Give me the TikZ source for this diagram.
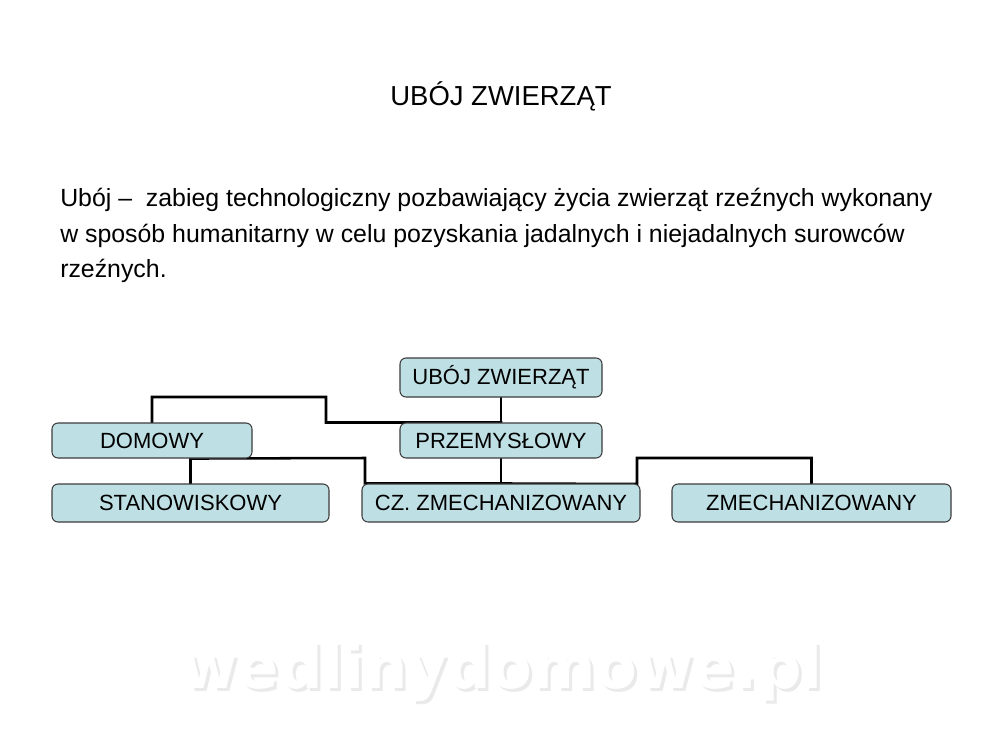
\documentclass[tikz,border=0pt]{standalone}
\usepackage{fontspec}
\setmainfont{Liberation Sans}
\newfontfamily\wmfont{DejaVu Sans}
\pgfdeclarelayer{paper}
\pgfdeclarelayer{wires}
\pgfsetlayers{paper,wires,main}
\definecolor{boxfill}{RGB}{190,224,228}
\definecolor{boxline}{RGB}{60,60,60}
\definecolor{wmshadow}{RGB}{234,234,234}
\tikzset{
  orgbox/.style={draw=boxline, line width=0.8pt, fill=boxfill, rounded corners=4.5pt,
    inner sep=0pt, text=black, font=\fontsize{16.5}{19}\selectfont},
  conn/.style={draw=black, line width=1.9pt, line cap=rect},
  para/.style={anchor=base west, inner sep=0pt, font=\fontsize{18.65}{22}\selectfont}
}
\begin{document}
\begin{tikzpicture}[x=0.75pt,y=-0.75pt]
\useasboundingbox (0,0) rectangle (1000,750);
\begin{pgfonlayer}{paper}
\fill[white] (0,0) rectangle (1000,750);
\end{pgfonlayer}

% title
\node[anchor=base, inner sep=0pt, font=\fontsize{20.6}{24}\selectfont] (title) at (501,105) {UBÓJ ZWIERZĄT};

% paragraph
\node[para] (p1) at (60,206) {Ubój –\ \ zabieg technologiczny pozbawiający życia zwierząt rzeźnych wykonany};
\node[para] (p2) at (60,242) {w sposób humanitarny w celu pozyskania jadalnych i niejadalnych surowców};
\node[para] (p3) at (60,277) {rzeźnych.};

% boxes
\node[orgbox, minimum width={202*0.75pt}, minimum height={39*0.75pt}] (ubo) at (501,377.5) {UBÓJ ZWIERZĄT};
\node[orgbox, minimum width={200*0.75pt}, minimum height={35*0.75pt}] (dom) at (152,440.5) {DOMOWY};
\node[orgbox, minimum width={202*0.75pt}, minimum height={35*0.75pt}] (prz) at (501,440.5) {PRZEMYSŁOWY};
\node[orgbox, minimum width={277*0.75pt}, minimum height={38*0.75pt}] (sta) at (190.5,503) {STANOWISKOWY};
\node[orgbox, minimum width={278*0.75pt}, minimum height={38*0.75pt}] (cz) at (501,503) {CZ. ZMECHANIZOWANY};
\node[orgbox, minimum width={279*0.75pt}, minimum height={38*0.75pt}] (zme) at (811.5,503) {ZMECHANIZOWANY};

\coordinate (j1) at (326,422.5);
\coordinate (j2) at (326,397);
\coordinate (j3) at (365,458);
\coordinate (j4) at (637,484);
\coordinate (j5) at (637,458);

\begin{pgfonlayer}{wires}
\draw[conn] (ubo.south) -- (prz.north);
\draw[conn] (prz.north) -- (j1) -- (j2) -| (dom.north);
\draw[conn] (dom.south -| sta.north) -- (sta.north);
\draw[conn] (dom.south -| sta.north) -- (j3) |- (cz.north);
\draw[conn] (prz.south) -- (cz.north);
\draw[conn] (cz.north) -- (j4) -- (j5) -| (zme.north);
\end{pgfonlayer}

% watermark
\node[anchor=base, inner sep=0pt, text=wmshadow, font=\wmfont\bfseries\fontsize{45.6}{52}\selectfont] (wms) at (505,691) {wedlinydomowe.pl};
\node[anchor=base, inner sep=0pt, text=white, font=\wmfont\bfseries\fontsize{45.6}{52}\selectfont] (wm) at (502,688) {wedlinydomowe.pl};
\end{tikzpicture}
\end{document}
